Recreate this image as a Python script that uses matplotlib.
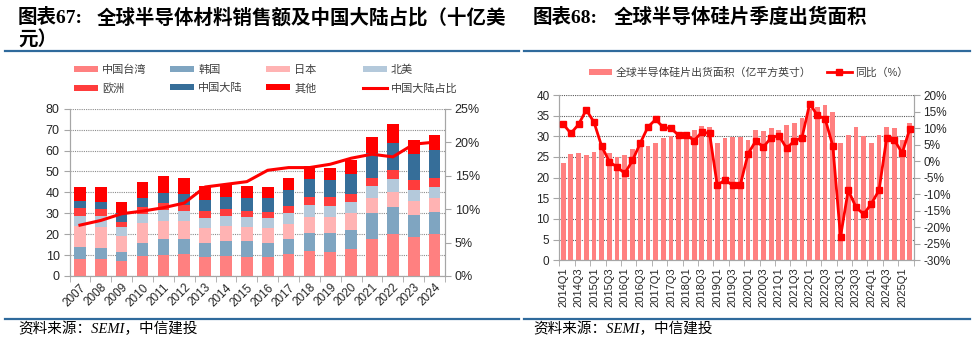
import matplotlib
matplotlib.use('Agg')
import matplotlib.pyplot as plt
import numpy as np
from matplotlib.patches import Patch
from matplotlib.lines import Line2D
from matplotlib.ticker import MultipleLocator, FuncFormatter, FixedLocator

plt.rcParams['font.family'] = ['Liberation Sans', 'Noto Sans CJK SC']

# ---------------- data: left chart ----------------
years = ['2007', '2008', '2009', '2010', '2011', '2012', '2013', '2014', '2015',
         '2016', '2017', '2018', '2019', '2020', '2021', '2022', '2023', '2024']
taiwan = [8.1, 8.0, 7.0, 9.4, 10.0, 10.3, 9.0, 9.7, 9.3, 9.2, 10.4, 11.8, 11.3, 12.9, 17.8, 20.2, 18.8, 20.2]
korea = [5.9, 5.6, 4.5, 6.4, 7.5, 7.4, 6.9, 6.8, 7.2, 6.7, 7.4, 8.9, 9.1, 8.9, 12.1, 12.8, 10.3, 10.4]
japan = [9.7, 9.9, 7.8, 9.5, 9.0, 8.6, 7.1, 7.3, 6.7, 6.9, 7.0, 7.6, 7.6, 8.3, 7.2, 7.3, 6.9, 6.7]
north_america = [5.1, 5.0, 3.9, 4.5, 4.9, 4.7, 4.9, 4.9, 5.0, 4.7, 5.5, 5.8, 5.6, 5.3, 5.7, 6.2, 5.3, 5.4]
europe = [3.5, 3.5, 2.6, 3.2, 3.5, 2.8, 3.0, 3.1, 2.9, 3.1, 3.3, 3.8, 4.0, 3.6, 3.9, 4.4, 4.4, 4.2]
mainland = [3.5, 3.6, 4.3, 4.1, 4.7, 5.2, 5.6, 5.8, 6.1, 6.6, 7.5, 8.3, 8.4, 9.9, 11.9, 12.9, 12.5, 13.3]
others = [6.7, 6.8, 5.3, 7.8, 8.2, 8.1, 6.3, 6.3, 6.0, 5.5, 5.7, 6.3, 5.8, 6.5, 8.1, 8.7, 6.6, 7.2]
mainland_share = [7.6, 8.3, 9.3, 9.7, 10.2, 10.9, 13.3, 13.7, 14.1, 15.8, 16.2, 16.2, 16.7, 17.6, 18.2, 17.8, 19.7, 20.0]

region_names = ['中国台湾', '韩国', '日本', '北美', '欧洲', '中国大陆', '其他']
line_name_left = '中国大陆占比'

# ---------------- data: right chart ----------------
quarters = ['2014Q1', '2014Q2', '2014Q3', '2014Q4', '2015Q1', '2015Q2', '2015Q3', '2015Q4',
            '2016Q1', '2016Q2', '2016Q3', '2016Q4', '2017Q1', '2017Q2', '2017Q3', '2017Q4',
            '2018Q1', '2018Q2', '2018Q3', '2018Q4', '2019Q1', '2019Q2', '2019Q3', '2019Q4',
            '2020Q1', '2020Q2', '2020Q3', '2020Q4', '2021Q1', '2021Q2', '2021Q3', '2021Q4',
            '2022Q1', '2022Q2', '2022Q3', '2022Q4', '2023Q1', '2023Q2', '2023Q3', '2023Q4',
            '2024Q1', '2024Q2', '2024Q3', '2024Q4', '2025Q1', '2025Q2']
wafer_area = [23.5, 25.8, 25.9, 25.5, 26.3, 26.9, 25.9, 24.9, 25.4, 26.9, 27.3, 27.6,
              28.4, 29.7, 30.0, 30.1, 30.4, 31.5, 32.4, 32.2, 28.4, 29.7, 29.9, 29.9,
              29.2, 31.6, 31.3, 32.0, 31.5, 32.7, 33.2, 34.4, 36.7, 37.0, 37.5, 35.9,
              28.3, 30.3, 32.2, 30.0, 28.3, 30.3, 32.2, 31.9, 29.0, 33.2]
yoy = [11.2, 8.4, 11.1, 15.5, 11.8, 4.5, -0.2, -1.8, -3.7, 0.2, 5.4, 10.3,
       12.6, 10.2, 9.9, 7.8, 8.0, 6.2, 8.8, 8.4, -7.3, -5.7, -7.3, -7.1,
       2.2, 6.1, 4.3, 7.1, 7.7, 3.9, 6.1, 7.1, 17.4, 13.8, 12.8, 4.6,
       -22.9, -8.8, -13.9, -16.1, -12.9, -8.8, 7.1, 6.4, 2.4, 9.8]
bar_name_right = '全球半导体硅片出货面积（亿平方英寸）'
line_name_right = '同比（%）'

# ---------------- style ----------------
region_colors = ['#FF8080', '#7FA5C1', '#FFB3B3', '#B4C9DB', '#FF3C3C', '#366E99', '#FF0000']
LINE_RED = '#FF0000'
SPINE = '#A6A6A6'
GRID = '#8C8C8C'
TXT = '#262626'
RULE = '#2F6A9C'
W, H = 976.0, 342.0

fig = plt.figure(figsize=(9.76, 3.42), dpi=100)


def fx(px):
    return px / W


def fy(py):
    return 1 - py / H


# ---------------- left chart ----------------
ax1 = fig.add_axes([fx(69.5), fy(276), fx(445) - fx(69.5), fy(108.7) - fy(276)])
x = np.arange(len(years))
bottom = np.zeros(len(years))
for name, vals, col in zip(region_names,
                           [taiwan, korea, japan, north_america, europe, mainland, others],
                           region_colors):
    ax1.bar(x, vals, 0.56, bottom=bottom, color=col, linewidth=0, zorder=2)
    bottom = bottom + np.array(vals)
ax1.set_xlim(-0.5, len(years) - 0.5)
ax1.set_ylim(0, 80)
ax1.yaxis.set_major_locator(MultipleLocator(10))
ax1.grid(axis='y', linestyle=(0, (1, 1)), color=GRID, linewidth=0.8, zorder=0)
ax1.set_axisbelow(True)
ax1.set_xticks(x)
ax1.set_xticklabels(years, rotation=45, ha='right', va='top', rotation_mode='anchor', fontsize=8.5, color=TXT)
ax1.xaxis.set_minor_locator(FixedLocator(np.arange(-0.5, len(years), 1.0)))
ax1.tick_params(axis='x', which='major', length=0, pad=4)
ax1.tick_params(axis='x', which='minor', length=4, color=SPINE)
ax1.tick_params(axis='y', length=4, color=SPINE, labelsize=9, labelcolor=TXT, pad=3)
ax1.spines['top'].set_visible(False)
for s in ['left', 'right', 'bottom']:
    ax1.spines[s].set_color(SPINE)

ax1b = ax1.twinx()
ax1b.plot(x, mainland_share, color=LINE_RED, linewidth=2.2, zorder=5)
ax1b.set_ylim(0, 25)
ax1b.yaxis.set_major_locator(MultipleLocator(5))
ax1b.yaxis.set_major_formatter(FuncFormatter(lambda v, p: f'{v:.0f}%'))
ax1b.tick_params(axis='y', length=4, color=SPINE, labelsize=9, labelcolor=TXT, pad=3)
ax1b.spines['top'].set_visible(False)
for s in ['left', 'right', 'bottom']:
    ax1b.spines[s].set_color(SPINE)

# left legends (one per entry for exact placement)
legend_entries = []
for name, col in zip(region_names, region_colors):
    legend_entries.append((Patch(facecolor=col, edgecolor='none'), name))
legend_entries.append((Line2D([], [], color=LINE_RED, linewidth=2.2), line_name_left))
col_x = [74, 170, 266, 362.7]
row_y = [69.7, 88.3]
for i, (h, lab) in enumerate(legend_entries):
    r, c = divmod(i, 4)
    fig.legend(handles=[h], labels=[lab], loc='center left',
               bbox_to_anchor=(fx(col_x[c]), fy(row_y[r])), frameon=False,
               borderpad=0, borderaxespad=0, handlelength=2.2, handleheight=0.45,
               handletextpad=0.35, fontsize=8, labelcolor='#404040')

# ---------------- right chart ----------------
ax2 = fig.add_axes([fx(559.3), fy(260.3), fx(913.7) - fx(559.3), fy(95) - fy(260.3)])
xq = np.arange(len(quarters))
ax2.bar(xq, wafer_area, 0.62, color='#FF8080', linewidth=0, zorder=2)
ax2.set_xlim(-0.5, len(quarters) - 0.5)
ax2.set_ylim(0, 40)
ax2.yaxis.set_major_locator(MultipleLocator(5))
ax2.grid(axis='y', linestyle=(0, (1, 1)), color='#595959', linewidth=0.8, zorder=0)
ax2.set_axisbelow(True)
ax2.set_xticks(xq[::2])
ax2.set_xticklabels(quarters[::2], rotation=90, fontsize=8, color=TXT)
ax2.xaxis.set_minor_locator(FixedLocator(np.arange(-0.5, len(quarters), 2.0)))
ax2.tick_params(axis='x', which='major', length=0, pad=5)
ax2.tick_params(axis='x', which='minor', length=4, color=SPINE)
ax2.tick_params(axis='y', length=4, color=SPINE, labelsize=8.5, labelcolor=TXT, pad=3)
ax2.spines['top'].set_visible(False)
for s in ['left', 'right', 'bottom']:
    ax2.spines[s].set_color(SPINE)

ax2b = ax2.twinx()
ax2b.plot(xq, yoy, color=LINE_RED, linewidth=2, marker='s', markersize=4, zorder=5)
ax2b.set_ylim(-30, 20)
ax2b.yaxis.set_major_locator(MultipleLocator(5))
ax2b.yaxis.set_major_formatter(FuncFormatter(lambda v, p: f'{v:.0f}%'))
ax2b.tick_params(axis='y', length=4, color=SPINE, labelsize=8.5, labelcolor=TXT, pad=3)
ax2b.spines['top'].set_visible(False)
for s in ['left', 'right', 'bottom']:
    ax2b.spines[s].set_color(SPINE)

fig.legend(handles=[Patch(facecolor='#FF8080', edgecolor='none')], labels=[bar_name_right],
           loc='center left', bbox_to_anchor=(fx(589), fy(72.3)), frameon=False,
           borderpad=0, borderaxespad=0, handlelength=2.1, handleheight=0.45,
           handletextpad=0.35, fontsize=7.8, labelcolor='#404040')
fig.legend(handles=[Line2D([], [], color=LINE_RED, linewidth=2, marker='s', markersize=4)],
           labels=[line_name_right],
           loc='center left', bbox_to_anchor=(fx(827), fy(72.3)), frameon=False,
           borderpad=0, borderaxespad=0, handlelength=2.3, handleheight=0.45,
           handletextpad=0.3, fontsize=7.8, labelcolor='#404040')

# ---------------- titles, rules, sources ----------------
tkw = dict(fontsize=14, fontweight='bold', va='center', ha='left', color='#000000',
           family=['Liberation Serif', 'Noto Sans CJK SC'])
ckw = dict(fontsize=14, fontweight='bold', va='center', ha='left', color='#000000',
           family=['Noto Sans CJK SC'])
fig.text(fx(18), fy(17.5), '图表67:', **tkw)
fig.text(fx(97), fy(17.5), '全球半导体材料销售额及中国大陆占比（十亿美', **ckw)
fig.text(fx(18), fy(40), '元）', **ckw)
fig.text(fx(533), fy(17.5), '图表68:', **tkw)
fig.text(fx(614), fy(17.5), '全球半导体硅片季度出货面积', **ckw)

for (x0, x1) in [(5, 519), (524, 970)]:
    for yy in [51, 318.5]:
        fig.add_artist(Line2D([fx(x0), fx(x1)], [fy(yy), fy(yy)], color=RULE, linewidth=1.6,
                              transform=fig.transFigure))

skw = dict(fontsize=10.5, style='italic', va='center', ha='left', color='#000000',
           family=['Liberation Serif', 'Noto Sans CJK SC'])
fig.text(fx(18), fy(329), '资料来源：SEMI，中信建投', **skw)
fig.text(fx(533), fy(329), '资料来源：SEMI，中信建投', **skw)

fig.savefig('out.png', dpi=100)
